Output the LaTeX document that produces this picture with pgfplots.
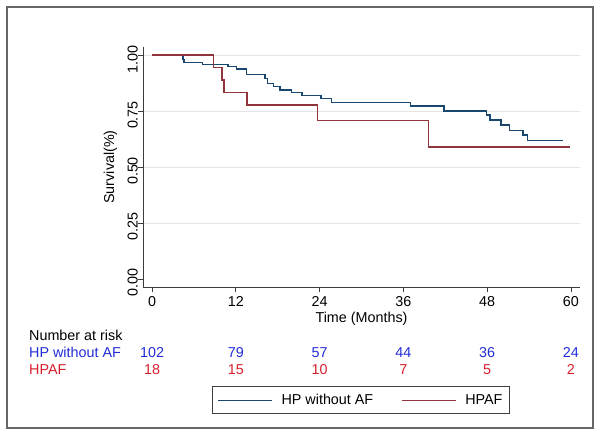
\documentclass[border=0pt]{standalone}
\usepackage{fontspec}
\setmainfont{Liberation Sans}
\usepackage{pgfplots}
\pgfplotsset{compat=1.18}
\definecolor{kmBlue}{RGB}{26,71,111}
\definecolor{kmRed}{RGB}{144,53,59}
\definecolor{txtBlue}{RGB}{35,45,215}
\definecolor{txtRed}{RGB}{215,30,45}
\definecolor{axisGray}{RGB}{60,60,60}

\begin{document}
\begin{tikzpicture}[font=\fontsize{14.4}{16}\selectfont]
\useasboundingbox (0,0) rectangle (600bp,435bp);
\draw[black!60, line width=1.3bp] (7bp,7bp) rectangle (593bp,428bp);

% number-at-risk row titles
\node[anchor=base west, inner sep=0pt] at (29bp,94bp) {Number at risk};
\node[anchor=base west, inner sep=0pt, txtBlue] at (29bp,77bp) {HP without AF};
\node[anchor=base west, inner sep=0pt, txtRed] at (29bp,60bp) {HPAF};

\begin{axis}[
    at={(143bp,148bp)}, anchor=south west,
    scale only axis, width=437bp, height=240bp,
    xmin=-1.3, xmax=61.3, ymin=-0.036, ymax=1.036,
    axis x line=bottom, axis y line=left,
    axis line style={-, axisGray, line width=0.8bp},
    tick style={axisGray, line width=0.8bp},
    tick align=outside, major tick length=5bp,
    xtick={0,12,24,36,48,60},
    ytick={0.25,0.5,0.75,1},
    yticklabels={0.25,0.50,0.75,1.00},
    extra y ticks={0}, extra y tick labels={0.00},
    extra y tick style={grid=none},
    ymajorgrids, grid style={black!10, line width=0.7bp},
    /pgf/number format/assume math mode=true,
    xticklabel style={anchor=north, inner sep=0pt, yshift=-4bp},
    yticklabel style={rotate=90, anchor=south, inner sep=0pt, xshift=-4bp},
    xlabel={Time (Months)},
    xlabel style={at={(axis description cs:0.5,-0.146)}, anchor=base, inner sep=0pt},
    ylabel={Survival(\%)},
    ylabel style={at={(axis description cs:-0.059,0.5)}, anchor=south, inner sep=0pt, rotate=0},
    legend columns=2,
    legend style={at={(axis description cs:0.4989,-0.471)}, anchor=center,
      draw=black!75, line width=0.9bp, inner xsep=5bp, inner ysep=5.5bp,
      font=\fontsize{14.4}{16}\selectfont,
      /tikz/every odd column/.append style={column sep=7bp},
      /tikz/every even column/.append style={column sep=26bp}},
    legend image code/.code={\draw[#1, line width=1bp] (0bp,0bp) -- (54bp,0bp);},
    clip=false,
]

% HP without AF
\addplot[kmBlue, line width=1.5bp, const plot] coordinates {
  (0,1.000) (4.4,0.980) (4.6,0.967) (7.2,0.958) (10.9,0.949) (12.1,0.937)
  (13.5,0.914) (16.2,0.896) (16.5,0.874) (17.4,0.859) (18.3,0.844)
  (20.0,0.833) (21.5,0.819) (24.2,0.805) (25.7,0.789) (37.0,0.772)
  (41.8,0.750) (47.9,0.733) (48.4,0.710) (50.0,0.688) (51.2,0.664)
  (53.1,0.643) (53.8,0.619) (58.8,0.619)
};
\addlegendentry{HP without AF}

% HPAF
\addplot[kmRed, line width=1.5bp, const plot] coordinates {
  (0,1.000) (8.8,0.944) (10.0,0.889) (10.3,0.833) (13.6,0.778)
  (23.7,0.708) (39.6,0.590) (59.8,0.590)
};
\addlegendentry{HPAF}

% numbers at risk
\foreach \t/\n/\m in {0/102/18, 12/79/15, 24/57/10, 36/44/7, 48/36/5, 60/24/2} {
  \edef\tmp{\noexpand\node[anchor=base, inner sep=0pt, txtBlue] at (axis cs:\t,-0.3527) {\n};
    \noexpand\node[anchor=base, inner sep=0pt, txtRed] at (axis cs:\t,-0.4286) {\m};}
  \tmp
}

\end{axis}
\end{tikzpicture}
\end{document}
